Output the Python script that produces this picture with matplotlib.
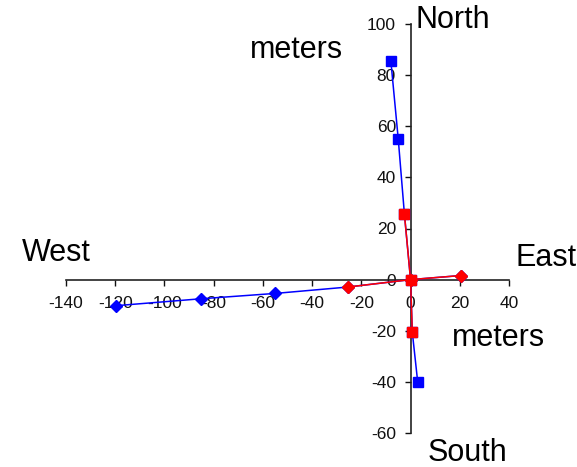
import matplotlib
matplotlib.use("Agg")
import matplotlib.pyplot as plt

plt.rcParams['font.family'] = ['Liberation Sans', 'DejaVu Sans']

# North-South survey (squares)
ns_x = [-8, -5, -2.5, 0, 0.7, 2.9]
ns_y = [85.5, 55, 25.7, 0, -20.5, -40]
ns_red_x = [-2.5, 0, 0.7]
ns_red_y = [25.7, 0, -20.5]

# East-West survey (diamonds)
ew_x = [-119.7, -85.3, -55, -25.5, 0, 20.4]
ew_y = [-10.2, -7.5, -5.4, -2.9, 0, 1.6]
ew_red_x = [-25.5, 0, 20.4]
ew_red_y = [-2.9, 0, 1.6]

xticks = list(range(-140, 41, 20))
yticks = list(range(-60, 101, 20))

fig = plt.figure(figsize=(5.77, 4.67), dpi=100)
ax = fig.add_axes([66/577, 1-433/467, 443/577, 409/467])

ax.plot(ns_x, ns_y, color='#0000FF', lw=1.1, marker='s', ms=6.5, zorder=3)
ax.plot(ew_x, ew_y, color='#0000FF', lw=1.1, marker='D', ms=6, zorder=3)
ax.plot(ns_red_x, ns_red_y, color='#FF0000', lw=1.1, marker='s', ms=6.5, zorder=4)
ax.plot(ew_red_x, ew_red_y, color='#FF0000', lw=1.1, marker='D', ms=6.5, zorder=4)

ax.set_xlim(-140, 40)
ax.set_ylim(-60, 100)
ax.spines['left'].set_position(('data', 0))
ax.spines['bottom'].set_position(('data', 0))
ax.spines['right'].set_visible(False)
ax.spines['top'].set_visible(False)
for s in ('left', 'bottom'):
    ax.spines[s].set_color('#222222')
    ax.spines[s].set_linewidth(1.2)
ax.set_xticks(xticks)
ax.set_yticks(yticks)
ax.set_xticklabels([str(v) for v in xticks])
ax.set_yticklabels([str(v) for v in yticks])
ax.tick_params(axis='x', direction='out', length=4, width=1, pad=8, labelsize=12.5, colors='#111111')
ax.tick_params(axis='y', direction='out', length=4.5, width=1, pad=6, labelsize=12.5, colors='#111111')
ax.patch.set_alpha(0)

fs = 22
fig.text(415/577, 1-20/467, 'North', fontsize=fs, ha='left', va='center')
fig.text(428/577, 1-453/467, 'South', fontsize=fs, ha='left', va='center')
fig.text(22/577, 1-253/467, 'West', fontsize=fs, ha='left', va='center')
fig.text(516/577, 1-258/467, 'East', fontsize=fs, ha='left', va='center')
fig.text(250/577, 1-50/467, 'meters', fontsize=fs, ha='left', va='center')
fig.text(452/577, 1-338/467, 'meters', fontsize=fs, ha='left', va='center')

fig.savefig('out.png', dpi=100)
